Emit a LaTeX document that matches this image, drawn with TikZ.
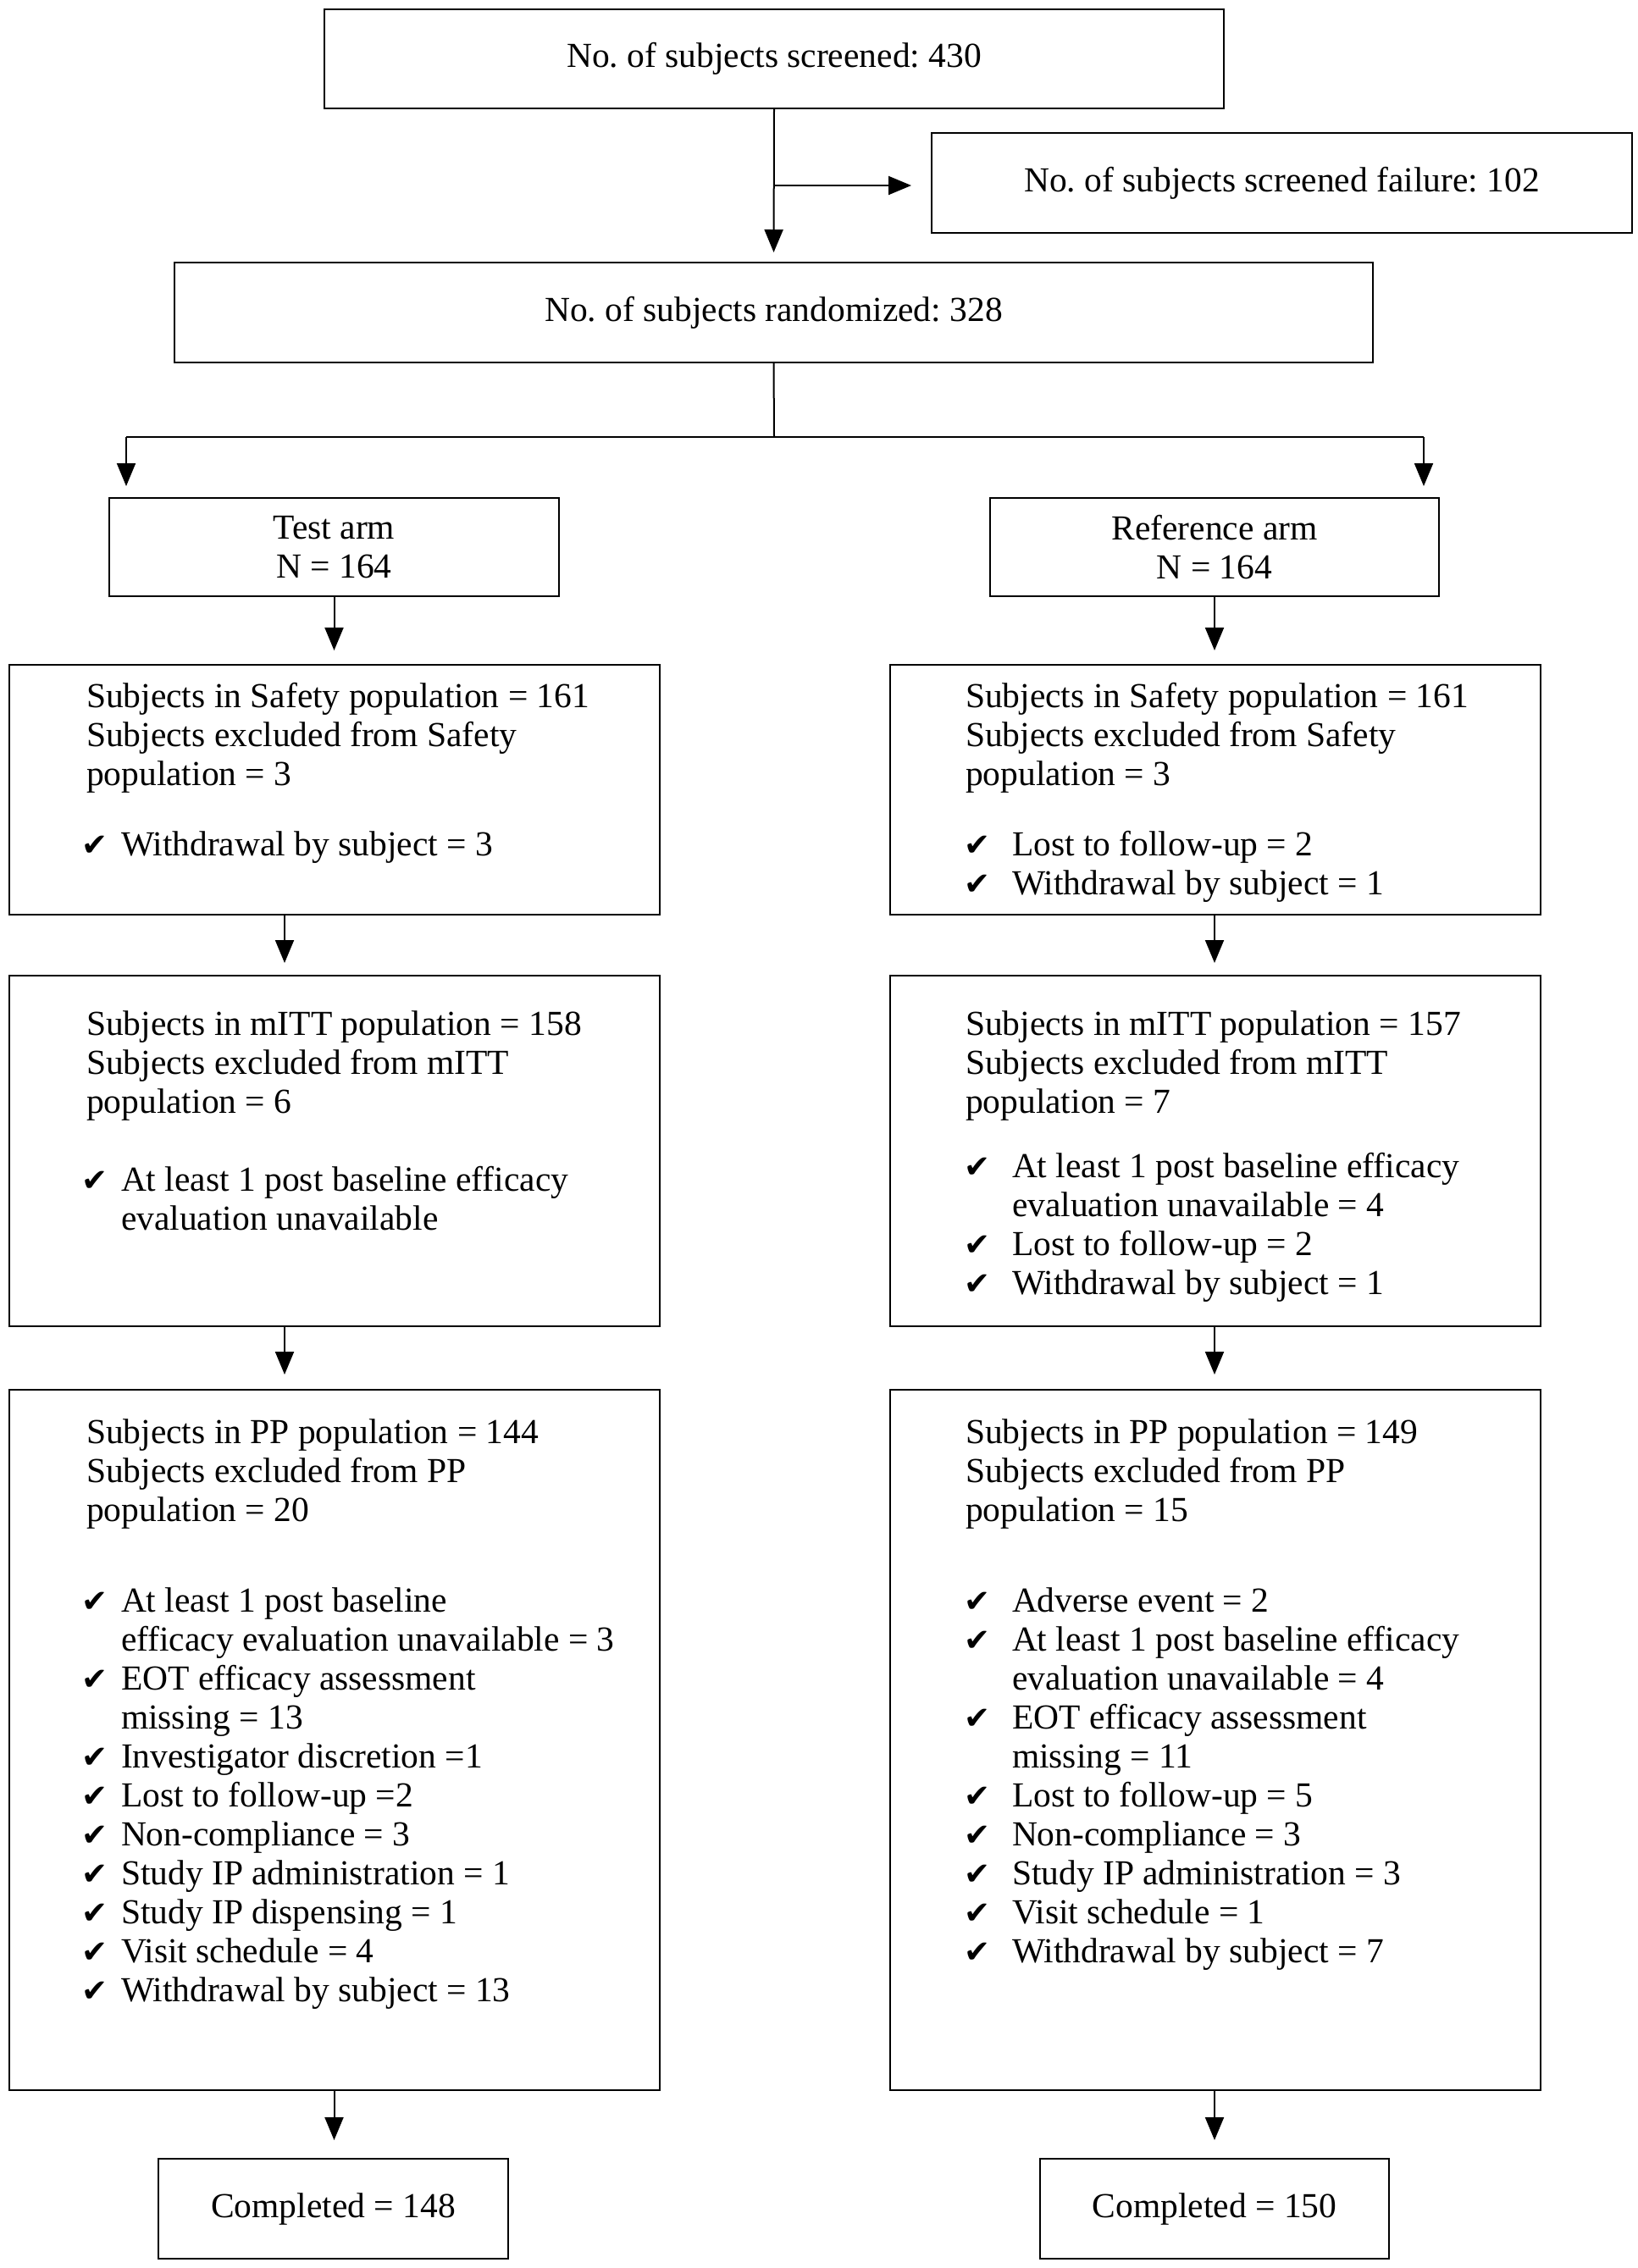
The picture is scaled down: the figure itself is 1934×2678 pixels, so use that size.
\documentclass[tikz,border=0pt]{standalone}
\usepackage{fontspec}
\setmainfont{Liberation Serif}
\newfontfamily\ckfont{DejaVu Sans}
\usetikzlibrary{arrows.meta}
\frenchspacing
\newcommand{\ckmark}{{\ckfont\fontsize{37}{46}\selectfont ✔}}
\newcommand{\ckL}{\makebox[47pt][l]{\ckmark}}
\newcommand{\ckR}{\makebox[57pt][l]{\ckmark}}
\newcommand{\inL}{\hspace*{47pt}}
\newcommand{\inR}{\hspace*{57pt}}
\newcommand{\lst}[1]{\begin{tabular}[t]{@{}l@{}}#1\end{tabular}}
\begin{document}
\frenchspacing
\begin{tikzpicture}[x=1pt,y=-1pt,
  box/.style={draw, line width=2.5pt, inner sep=0pt, outer sep=0pt, align=center,
    font=\fontsize{41.5}{46}\selectfont\frenchspacing},
  txt/.style={inner sep=0pt, outer sep=0pt, anchor=base west,
    font=\fontsize{41.5}{46}\selectfont\frenchspacing},
  ln/.style={line width=2pt},
  arr/.style={line width=2pt, -{Triangle[length=27pt,width=22pt]}}]
\useasboundingbox (0,0) rectangle (1934,2678);

% boxes
\node[box, minimum width=1062pt, minimum height=117pt] (top) at (914,69.5) {No. of subjects screened: 430};
\node[box, minimum width=827pt, minimum height=118pt] (fail) at (1513.5,216) {No. of subjects screened failure: 102};
\node[box, minimum width=1415pt, minimum height=118pt] (rand) at (913.5,369) {No. of subjects randomized: 328};
\node[box, minimum width=531pt, minimum height=116pt] (testarm) at (394.5,646) {Test arm\\N = 164};
\node[box, minimum width=530pt, minimum height=116pt] (refarm) at (1434,646) {Reference arm\\N = 164};
\node[box, minimum width=768pt, minimum height=295pt] (safL) at (395,932.5) {};
\node[box, minimum width=768pt, minimum height=295pt] (safR) at (1435,932.5) {};
\node[box, minimum width=768pt, minimum height=414pt] (mittL) at (395,1359) {};
\node[box, minimum width=768pt, minimum height=414pt] (mittR) at (1435,1359) {};
\node[box, minimum width=768pt, minimum height=827pt] (ppL) at (395,2054.5) {};
\node[box, minimum width=768pt, minimum height=827pt] (ppR) at (1435,2054.5) {};
\node[box, minimum width=413pt, minimum height=118pt] (compL) at (393.5,2608) {Completed = 148};
\node[box, minimum width=412pt, minimum height=118pt] (compR) at (1434,2608) {Completed = 150};

% texts: safety
\node[txt] (safLh) at (102,835) {\lst{Subjects in Safety population = 161\\Subjects excluded from Safety\\population = 3}};
\node[txt] (safLl) at (96,1010.6) {\lst{\ckL Withdrawal by subject = 3}};
\node[txt] (safRh) at (1140,835) {\lst{Subjects in Safety population = 161\\Subjects excluded from Safety\\population = 3}};
\node[txt] (safRl) at (1138,1010.6) {\lst{\ckR Lost to follow-up = 2\\\ckR Withdrawal by subject = 1}};

% texts: mITT
\node[txt] (mittLh) at (102,1222) {\lst{Subjects in mITT population = 158\\Subjects excluded from mITT\\population = 6}};
\node[txt] (mittLl) at (96,1406) {\lst{\ckL At least 1 post baseline efficacy\\\inL evaluation unavailable}};
\node[txt] (mittRh) at (1140,1222) {\lst{Subjects in mITT population = 157\\Subjects excluded from mITT\\population = 7}};
\node[txt] (mittRl) at (1138,1390) {\lst{\ckR At least 1 post baseline efficacy\\\inR evaluation unavailable = 4\\\ckR Lost to follow-up = 2\\\ckR Withdrawal by subject = 1}};

% texts: PP
\node[txt] (ppLh) at (102,1704) {\lst{Subjects in PP population = 144\\Subjects excluded from PP\\population = 20}};
\node[txt] (ppLl) at (96,1903) {\lst{\ckL At least 1 post baseline\\\inL efficacy evaluation unavailable = 3\\\ckL EOT efficacy assessment\\\inL missing = 13\\\ckL Investigator discretion =1\\\ckL Lost to follow-up =2\\\ckL Non-compliance = 3\\\ckL Study IP administration = 1\\\ckL Study IP dispensing = 1\\\ckL Visit schedule = 4\\\ckL Withdrawal by subject = 13}};
\node[txt] (ppRh) at (1140,1704) {\lst{Subjects in PP population = 149\\Subjects excluded from PP\\population = 15}};
\node[txt] (ppRl) at (1138,1903) {\lst{\ckR Adverse event = 2\\\ckR At least 1 post baseline efficacy\\\inR evaluation unavailable = 4\\\ckR EOT efficacy assessment\\\inR missing = 11\\\ckR Lost to follow-up = 5\\\ckR Non-compliance = 3\\\ckR Study IP administration = 3\\\ckR Visit schedule = 1\\\ckR Withdrawal by subject = 7}};

% connectors
\coordinate (fb) at (914,219);
\coordinate (bc) at (914,516);
\coordinate (bl) at (149,516);
\coordinate (br) at (1681,516);
\coordinate (aL) at (336,0);

\draw[arr, shorten >=12pt] (top.south) -- (rand.north);
\draw[arr, shorten >=24pt] (fb) -- (fb -| fail.west);
\draw[ln] (rand.south) -- (bc);
\draw[ln] (bl) -- (br);
\draw[arr, shorten >=14pt] (bl) -- (bl |- testarm.north);
\draw[arr, shorten >=14pt] (br) -- (br |- refarm.north);

\draw[arr, shorten >=17pt] (testarm.south) -- (testarm.south |- safL.north);
\draw[arr, shorten >=15pt] (aL |- safL.south) -- (aL |- mittL.north);
\draw[arr, shorten >=18pt] (aL |- mittL.south) -- (aL |- ppL.north);
\draw[arr, shorten >=22pt] (testarm.south |- ppL.south) -- (testarm.south |- compL.north);

\draw[arr, shorten >=17pt] (refarm.south) -- (refarm.south |- safR.north);
\draw[arr, shorten >=15pt] (refarm.south |- safR.south) -- (refarm.south |- mittR.north);
\draw[arr, shorten >=18pt] (refarm.south |- mittR.south) -- (refarm.south |- ppR.north);
\draw[arr, shorten >=22pt] (refarm.south |- ppR.south) -- (refarm.south |- compR.north);
\end{tikzpicture}
\end{document}
